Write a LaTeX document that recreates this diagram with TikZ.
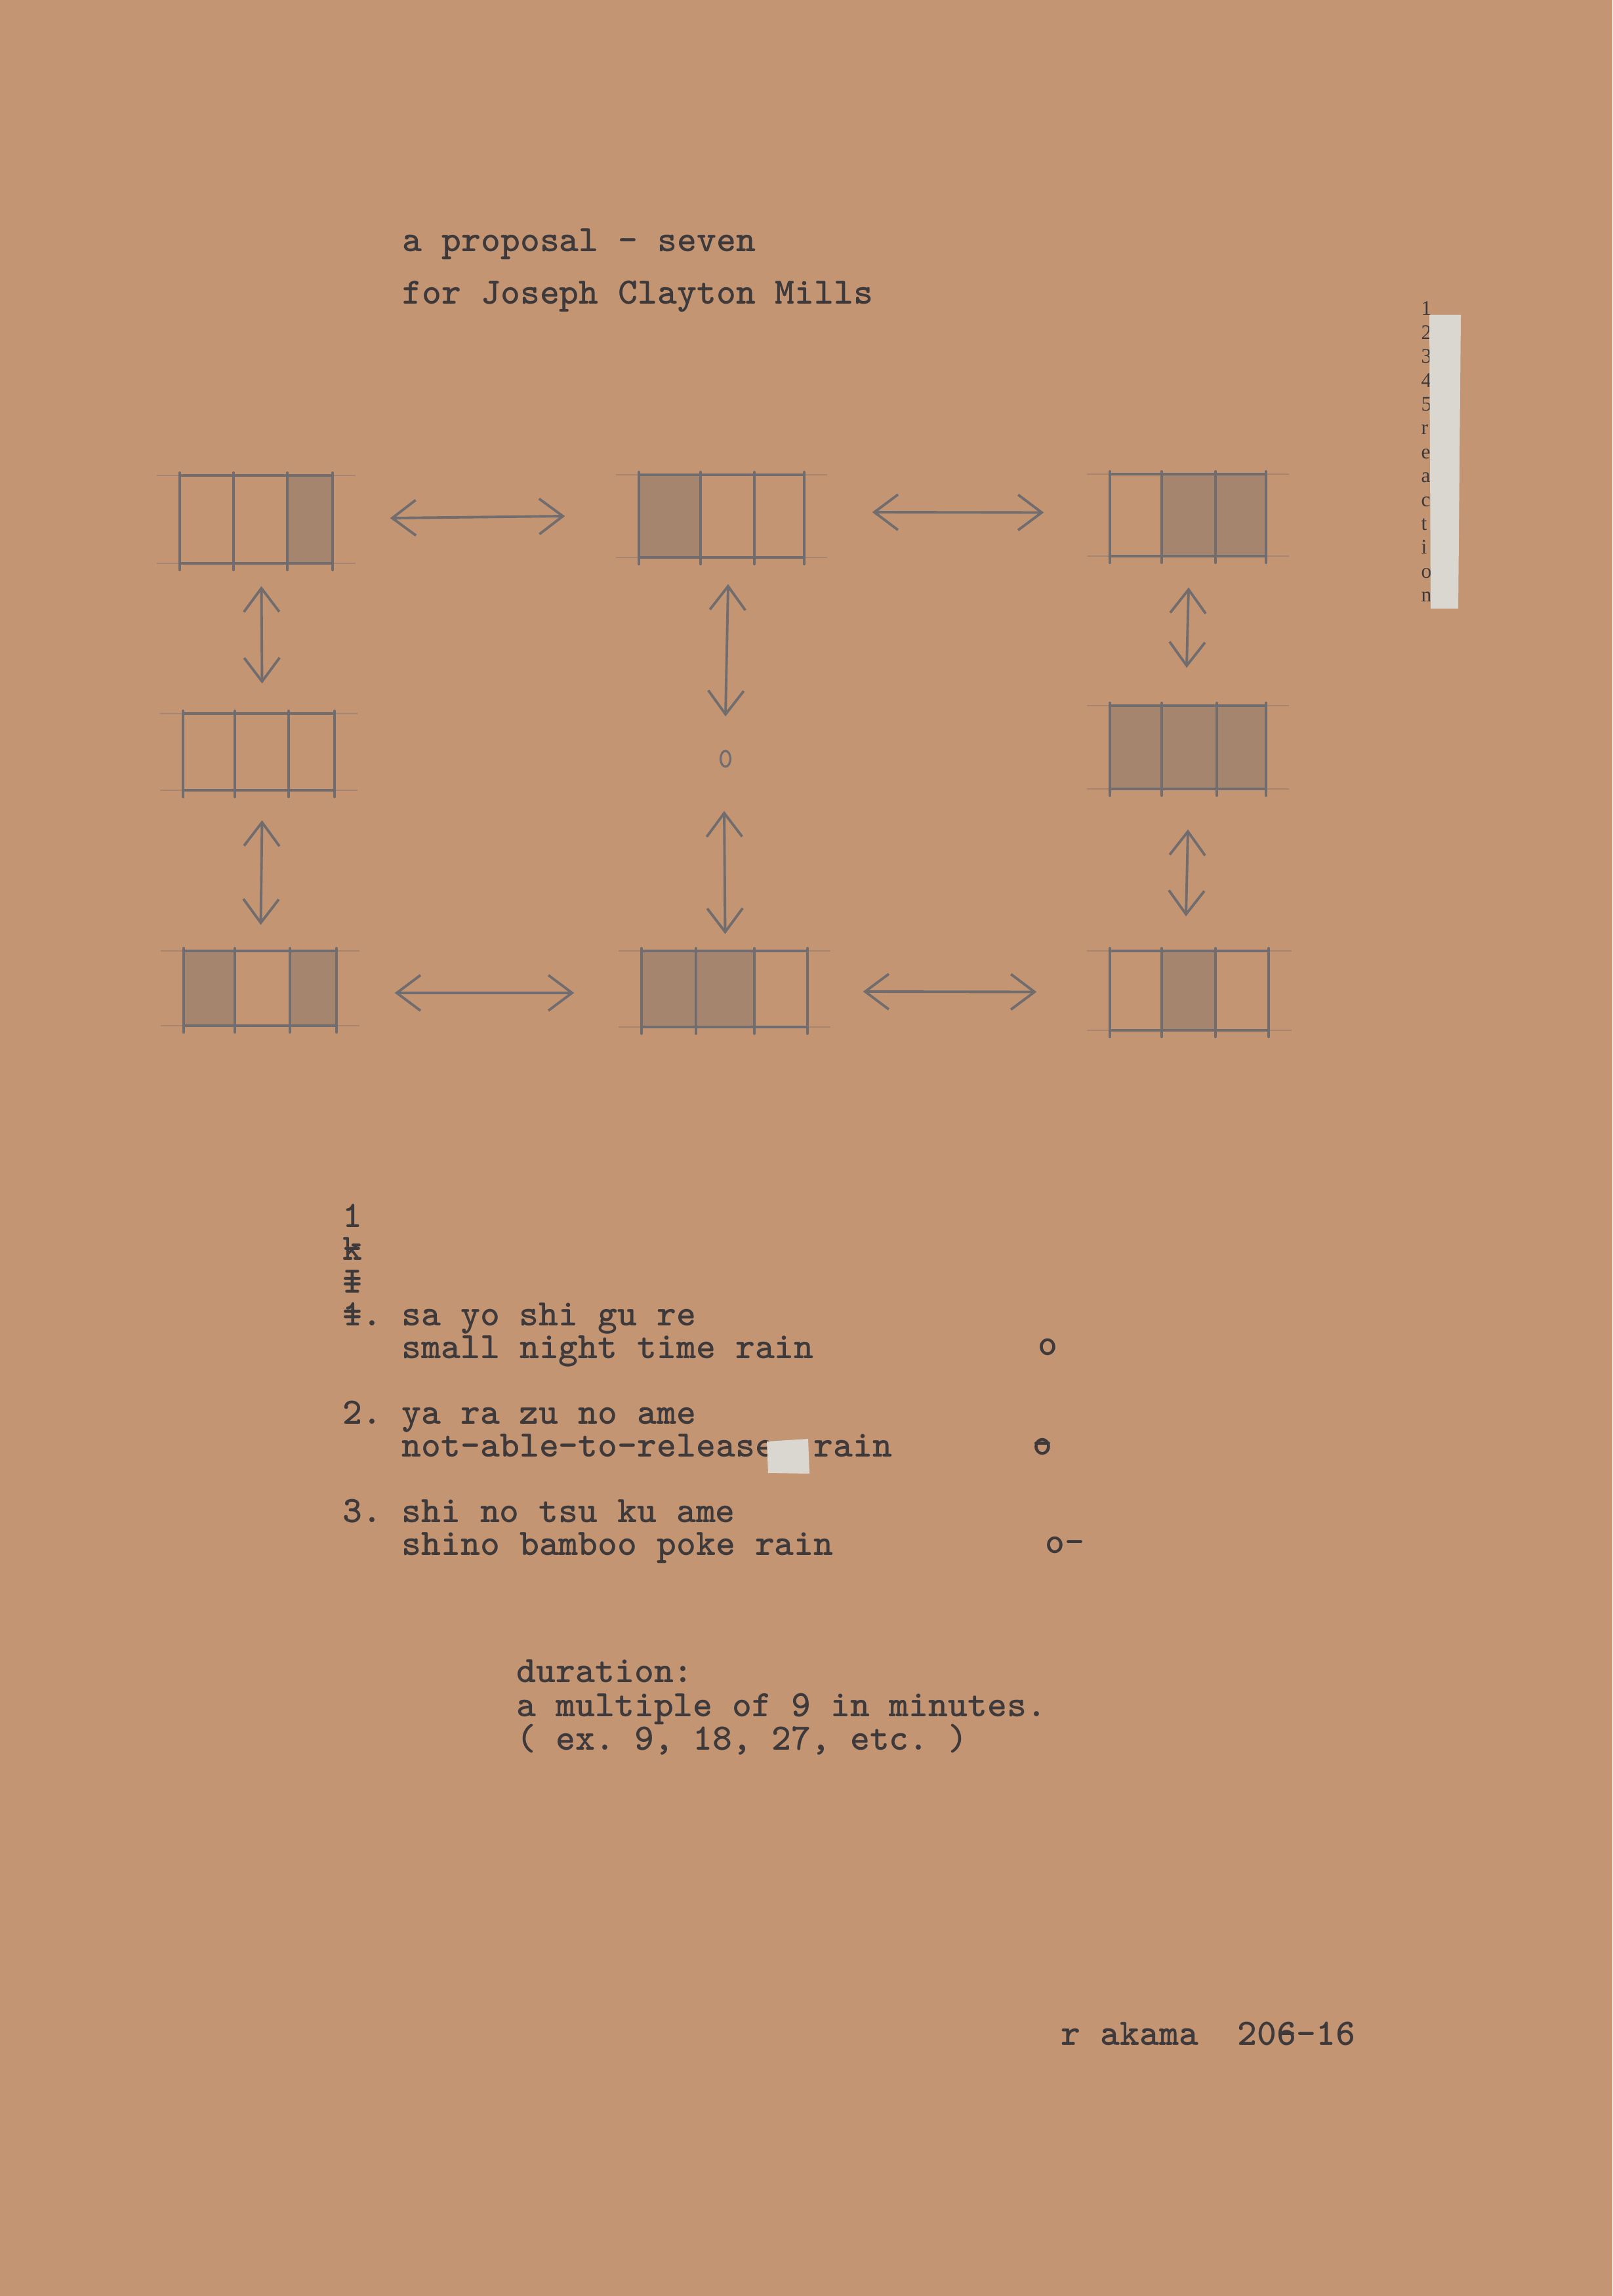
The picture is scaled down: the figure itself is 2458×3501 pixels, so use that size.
\documentclass[tikz,border=0pt]{standalone}
\usepackage{fontspec}
\usepackage{xcolor}
\usepackage{tikz}
\usetikzlibrary{calc,arrows.meta,shapes.geometric}
\newfontfamily\stripfont{Liberation Serif}
\definecolor{paper}{HTML}{C39573}
\definecolor{graphite}{HTML}{716C6E}
\definecolor{shadecol}{HTML}{A6856F}
\definecolor{ink}{HTML}{3E393A}
\definecolor{tape}{HTML}{DAD6D0}
\tikzset{
  pencil/.style={draw=graphite, line width=1.2pt, line cap=round},
  guide/.style={draw=graphite, draw opacity=0.35, line width=0.7pt},
  twoway/.style={pencil, line width=1.1pt, {Straight Barb[length=3.6mm,width=5.4mm]}-{Straight Barb[length=3.6mm,width=5.4mm]}},
  hatch/.style={fill=shadecol},
  typed/.style={text=ink, font=\ttfamily\bfseries\fontsize{16.2pt}{19pt}\selectfont, anchor=base west, inner sep=0pt, text height=0.34cm, text depth=0.11cm},
  striptext/.style={text=ink, font=\stripfont\fontsize{9pt}{11pt}\selectfont, anchor=base west, inner sep=0pt, text height=0.2cm, text depth=0cm}
}
\frenchspacing

\begin{document}
\begin{tikzpicture}[x=0.01cm, y=-0.01cm]
  \useasboundingbox (0,0) rectangle (2458,3501);
  \fill[paper] (0,0) rectangle (2458,3501);

  % heading
  \node[typed] (head1) at (613,384) {a proposal - seven};
  \node[typed] (head2) at (613,464) {for Joseph Clayton Mills};

  % strip on the right edge
  \foreach \c [count=\i from 0] in {1,2,3,4,5,r,e,a,c,t,i,o,n}
    \node[striptext] (s\i) at (2166,{481+36.4*\i}) {\c};
  \fill[tape] (2179,480) -- (2227,480) -- (2223,928) -- (2181,928) -- cycle;

  % shaded cells
  \fill[hatch] (438,725) rectangle (507,859);
  \fill[hatch] (974,724) rectangle (1068,850);
  \fill[hatch] (1771,723) rectangle (1930,848);
  \fill[hatch] (1692,1076) rectangle (1930,1203);
  \fill[hatch] (280,1450) rectangle (358,1564);
  \fill[hatch] (442,1450) rectangle (513,1564);
  \fill[hatch] (978,1450) rectangle (1150,1566);
  \fill[hatch] (1771,1450) rectangle (1853,1571);

  % three-cell boxes
  \foreach \nm/\xa/\xb/\xc/\xd/\yt/\yb in {
      TL/274/356/438/507/725/859, TM/974/1068/1150/1226/724/850,
      TR/1692/1771/1853/1930/723/848, ML/279/358/440/510/1088/1205,
      MR/1692/1771/1855/1930/1076/1203, BL/280/358/442/513/1450/1564,
      BM/978/1061/1150/1231/1450/1566, BR/1692/1771/1853/1934/1450/1571} {
    \node[inner sep=0pt, minimum width={(\xd-\xa)*0.01cm}, minimum height={(\yb-\yt)*0.01cm}]
      (\nm) at ({(\xa+\xd)/2},{(\yt+\yb)/2}) {};
    \draw[guide] (\xa-35,\yt) -- (\xd+35,\yt);
    \draw[guide] (\xa-35,\yb) -- (\xd+35,\yb);
    \draw[pencil] (\xa,\yt) -- (\xd,\yt);
    \draw[pencil] (\xa,\yb) -- (\xd,\yb);
    \foreach \xx in {\xa,\xb,\xc,\xd}
      \draw[pencil] (\xx,\yt-4) -- (\xx,\yb+10);
  }

  % the small pencil o in the middle
  \node[ellipse, draw=graphite, line width=0.9pt, inner sep=0pt, minimum width=0.15cm, minimum height=0.24cm] (rest) at (1106,1157) {};

  % arrows
  \draw[twoway] ($(TL.east)+(87,-2)$) -- ($(TM.west)+(-112,0)$);
  \draw[twoway] ($(TM.east)+(103,-6)$) -- ($(TR.west)+(-100,-4)$);
  \draw[twoway] ($(TL.south)+(8,34)$) -- ($(ML.north)+(5,-45)$);
  \draw[twoway] ($(TM.south)+(10,40)$) -- ($(rest.north)+(0,-51)$);
  \draw[twoway] ($(TR.south)+(1,47)$) -- ($(MR.north)+(-2,-57)$);
  \draw[twoway] ($(ML.south)+(5,45)$) -- ($(BL.north)+(1,-39)$);
  \draw[twoway] ($(rest.south)+(-2,66)$) -- ($(BM.north)+(1,-25)$);
  \draw[twoway] ($(MR.south)+(0,61)$) -- ($(BR.north)+(-5,-52)$);
  \draw[twoway] ($(BL.east)+(88,7)$) -- ($(BM.west)+(-102,6)$);
  \draw[twoway] ($(BM.east)+(84,4)$) -- ($(BR.west)+(-111,2)$);

  % list of rains
  \node[typed] (n1) at (522,1871) {1};
  \node[typed] (n2) at (522,1921) {\rlap{k}-};
  \node[typed] (n3) at (522,1971) {\rlap{I}=};
  \node[typed] (r1a) at (522,2021) {\rlap{1}=. sa yo shi gu re};
  \node[typed] (r1b) at (612,2071) {small night time rain};
  \node[typed] (r2a) at (522,2171) {2. ya ra zu no ame};
  \node[typed] (r2b) at (612,2221) {not-able-to-release\ \ rain};
  \node[typed] (r3a) at (522,2321) {3. shi no tsu ku ame};
  \node[typed] (r3b) at (612,2371) {shino bamboo poke rain};
  \fill[tape] (1169,2198) -- (1232,2194) -- (1234,2247) -- (1171,2246) -- cycle;

  \node[typed] (m1) at (1582,2066) {o};
  \node[typed] (m2) at (1574,2218) {\rlap{o}-};
  \node[typed] (m3) at (1593,2368) {o-};

  % duration
  \node[typed] (dur1) at (787,2565) {duration:};
  \node[typed] (dur2) at (787,2617) {a multiple of 9 in minutes.};
  \node[typed] (dur3) at (787,2668) {( ex. 9, 18, 27, etc. )};

  % signature
  \node[typed] (sign) at (1617,3118) {r akama\ \ 20\rlap{6}-{}-16};
\end{tikzpicture}
\end{document}
